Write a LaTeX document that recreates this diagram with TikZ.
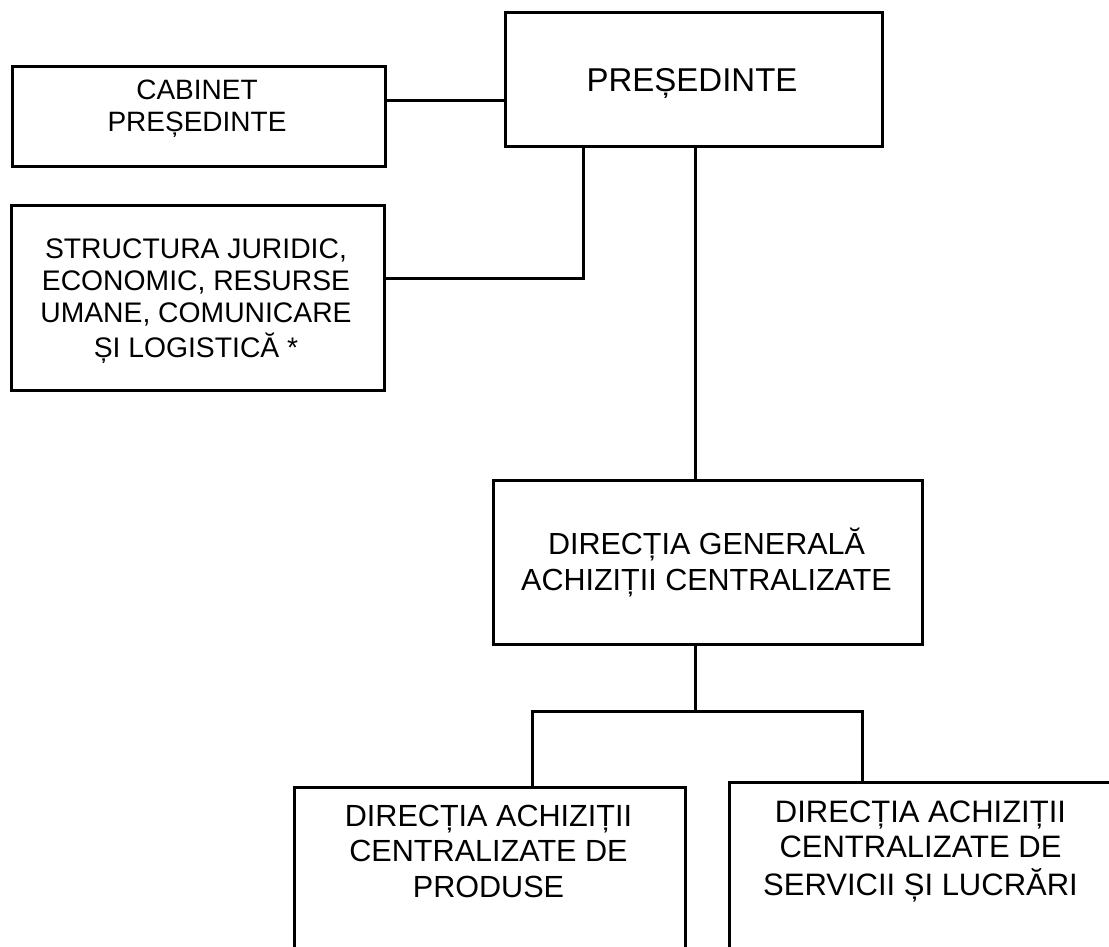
\documentclass[tikz,border=0pt]{standalone}
\usepackage{fontspec}
\setmainfont{Liberation Sans}
\newcommand{\mlines}[1]{\begin{tabular}[t]{@{}c@{}}#1\end{tabular}}
\begin{document}
\begin{tikzpicture}[x=1pt,y=-1pt,
  box/.style={draw=black, line width=3pt, inner sep=0pt, anchor=north west},
  lbl/.style={anchor=base, inner sep=0pt, text=black},
  conn/.style={draw=black, line width=3pt}]
\clip (0,0) rectangle (1109,947);
\fill[white] (0,0) rectangle (1109,947);
% boxes
\node[box, minimum width=377pt, minimum height=134pt] (pres) at (504,11) {};
\node[box, minimum width=373pt, minimum height=100pt] (cab) at (11,65) {};
\node[box, minimum width=373pt, minimum height=185pt] (str) at (10,204) {};
\node[box, minimum width=429pt, minimum height=164pt] (dg) at (492,479) {};
\node[box, minimum width=391pt, minimum height=200pt] (prod) at (293,786) {};
\node[box, minimum width=385pt, minimum height=200pt] (serv) at (728,781) {};
% texts
\node[lbl, font=\fontsize{33}{38}\selectfont] (prestxt) at (692,92) {PREȘEDINTE};
\node[lbl, font=\fontsize{28}{32.5}\selectfont] (cabtxt) at (197,99.5) {\mlines{CABINET\\PREȘEDINTE}};
\node[lbl, font=\fontsize{28.3}{32.5}\selectfont] (strtxt) at (196,258) {\mlines{STRUCTURA JURIDIC,\\ECONOMIC, RESURSE\\UMANE, COMUNICARE\\ȘI LOGISTICĂ *}};
\node[lbl, font=\fontsize{30.5}{36.5}\selectfont] (dgtxt) at (706.5,554) {\mlines{DIRECȚIA GENERALĂ\\ACHIZIȚII CENTRALIZATE}};
\node[lbl, font=\fontsize{30.6}{35.7}\selectfont] (prodtxt) at (488.5,826) {\mlines{DIRECȚIA ACHIZIȚII\\CENTRALIZATE DE\\PRODUSE}};
\node[lbl, font=\fontsize{31}{35.5}\selectfont] (servtxt) at (920.5,822) {\mlines{DIRECȚIA ACHIZIȚII\\CENTRALIZATE DE\\SERVICII ȘI LUCRĂRI}};
% junction coordinates
\coordinate (c1) at (0,101);
\coordinate (j1) at (583,278);
\coordinate (j2) at (695,0);
\coordinate (bus) at (695,711);
\coordinate (bl) at (532,711);
\coordinate (br) at (862,711);
% connectors
\draw[conn] (c1 -| cab.east) -- (c1 -| pres.west);
\draw[conn] (j1 |- pres.south) -- (j1) -- (j1 -| str.east);
\draw[conn] (j2 |- pres.south) -- (j2 |- dg.north);
\draw[conn] (bus |- dg.south) -- (bus);
\draw[conn] (bl |- prod.north) -- (bl) -- (br) -- (br |- serv.north);
\end{tikzpicture}
\end{document}
